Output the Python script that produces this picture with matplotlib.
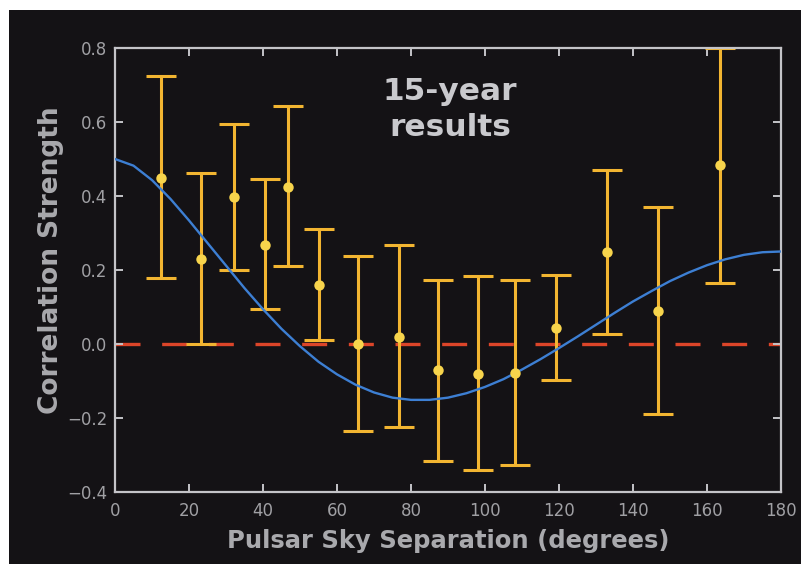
import numpy as np
import matplotlib
matplotlib.use("Agg")
import matplotlib.pyplot as plt
from matplotlib.patches import Rectangle

sep = [12.4, 23.2, 32.2, 40.5, 46.8, 55.1, 65.7, 76.8, 87.3, 98.1, 108.1, 119.2, 133.0, 146.8, 163.5]
corr = [0.449, 0.230, 0.397, 0.268, 0.424, 0.159, 0.000, 0.019, -0.070, -0.081, -0.078, 0.043, 0.249, 0.089, 0.484]
err_hi = [0.724, 0.462, 0.595, 0.446, 0.643, 0.311, 0.238, 0.268, 0.173, 0.184, 0.173, 0.186, 0.470, 0.370, 0.800]
err_lo = [0.178, 0.000, 0.200, 0.095, 0.211, 0.011, -0.235, -0.224, -0.316, -0.341, -0.327, -0.097, 0.027, -0.189, 0.165]

# blue model curve, sampled every 5 degrees from the picture
curve_x = list(range(0, 181, 5))
curve_y = [0.500, 0.482, 0.443, 0.392, 0.334, 0.273, 0.212, 0.151, 0.094, 0.041,
           -0.006, -0.048, -0.082, -0.110, -0.131, -0.145, -0.151, -0.151, -0.145,
           -0.133, -0.116, -0.095, -0.069, -0.041, -0.011, 0.020, 0.052, 0.084,
           0.115, 0.143, 0.170, 0.193, 0.213, 0.229, 0.241, 0.248, 0.250]

xticks = [0, 20, 40, 60, 80, 100, 120, 140, 160, 180]
yticks = [-0.4, -0.2, 0.0, 0.2, 0.4, 0.6, 0.8]

plt.rcParams['font.family'] = ['DejaVu Sans']

bg = '#141215'
fig = plt.figure(figsize=(8.01, 5.64), dpi=100, facecolor='white')
fig.patches.append(Rectangle((9 / 801, 0), 1, 1 - 10 / 564, transform=fig.transFigure,
                             facecolor=bg, edgecolor='none', zorder=-10))

ax = fig.add_axes([115 / 801, 1 - 492 / 564, 666 / 801, 444 / 564])
ax.set_facecolor(bg)

ax.axhline(0, color='#dc4529', lw=2.4, dashes=(7.5, 6.5), zorder=1)

lo = np.array(corr) - np.array(err_lo)
hi = np.array(err_hi) - np.array(corr)
ax.errorbar(sep, corr, yerr=[lo, hi], fmt='none', ecolor='#f2b531', elinewidth=2.2,
            capsize=10.5, capthick=2.2, zorder=2)
ax.plot(curve_x, curve_y, color='#3d7fd3', lw=1.7, zorder=3)
ax.plot(sep, corr, 'o', color='#f7d44c', ms=7.5, mec='none', zorder=4)

ax.set_xlim(0, 180)
ax.set_ylim(-0.4, 0.8)
ax.set_xticks(xticks)
ax.set_yticks(yticks)
ax.set_yticklabels([f'{v:.1f}'.replace('-', '\u2212') for v in yticks])

for s in ax.spines.values():
    s.set_color('#c4c4c8')
    s.set_linewidth(1.6)
ax.tick_params(direction='in', top=True, right=True, length=6, width=1.4,
               color='#c4c4c8', labelcolor='#a0a0a4', labelsize=12)
ax.tick_params(axis='x', pad=7.5)
ax.tick_params(axis='y', pad=5.5)

lab = '#a9a9ad'
ax.set_xlabel('Pulsar Sky Separation (degrees)', fontsize=17.5, fontweight='bold',
              color=lab, labelpad=6)
ax.set_ylabel('Correlation Strength', fontsize=19, fontweight='bold', color=lab)
ax.yaxis.set_label_coords(-0.076, 0.523)

ax.text(0.503, 0.935, '15-year\nresults', transform=ax.transAxes, ha='center', va='top',
        fontsize=22.5, fontweight='bold', color='#c9c9cd', linespacing=1.3)

fig.savefig('out.png', dpi=100, facecolor=fig.get_facecolor())
